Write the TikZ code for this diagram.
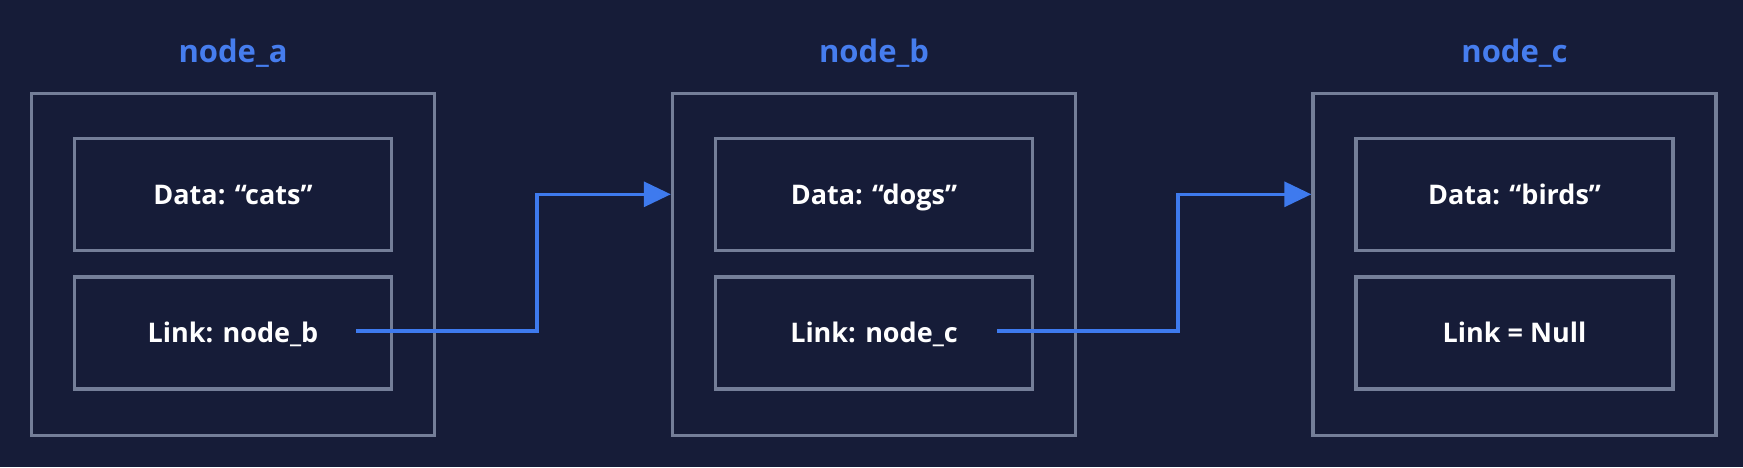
\documentclass[tikz,border=0pt]{standalone}
\usepackage{fontspec}
\setmainfont{Open Sans}
\usetikzlibrary{arrows.meta}
\definecolor{bg}{RGB}{22,28,56}
\definecolor{frame}{RGB}{116,126,152}
\definecolor{linkblue}{RGB}{62,122,238}
\definecolor{titleblue}{RGB}{70,125,238}
\begin{document}
\begin{tikzpicture}[x=1pt,y=-1pt,
  outerbox/.style={draw=frame, line width=3.4pt, minimum width=403pt, minimum height=342pt, inner sep=0pt},
  cell/.style={draw=frame, line width=3.4pt, minimum width=317pt, minimum height=112pt, inner sep=0pt,
    text=white, font=\fontsize{27}{31}\selectfont\bfseries, text height=19.5pt, text depth=0pt},
  title/.style={text=titleblue, font=\fontsize{31}{36}\selectfont\bfseries, anchor=base, inner sep=0pt},
  arr/.style={draw=linkblue, line width=3.2pt, -{Triangle[length=27pt,width=25pt]}}]
\fill[bg] (0,0) rectangle (1743,467);
\useasboundingbox (0,0) rectangle (1743,467);

% node_a
\node[title] (ta) at (233,62) {node\_a};
\node[outerbox] (oa) at (233,264.5) {};
\node[cell] (da) at (233,194.3) {Data: “cats”};
\node[cell] (la) at (233,332.8) {Link: node\_b};

% node_b
\node[title] (tb) at (874,62) {node\_b};
\node[outerbox] (ob) at (874,264.5) {};
\node[cell] (db) at (874,194.3) {Data: “dogs”};
\node[cell] (lb) at (874,332.8) {Link: node\_c};

% node_c
\node[title] (tc) at (1514.5,62) {node\_c};
\node[outerbox] (oc) at (1514.5,264.5) {};
\node[cell] (dc) at (1514.5,194.3) {Data: “birds”};
\node[cell] (lc) at (1514.5,332.8) {Link = Null};

% connectors
\coordinate (sa) at (356,331);
\coordinate (ka) at (537,194.3);
\coordinate (sb) at (997,331);
\coordinate (kb) at (1178,194.3);
\draw[arr] (sa) -| (ka) -- (ob.west |- db.center);
\draw[arr] (sb) -| (kb) -- (oc.west |- dc.center);
\end{tikzpicture}
\end{document}
